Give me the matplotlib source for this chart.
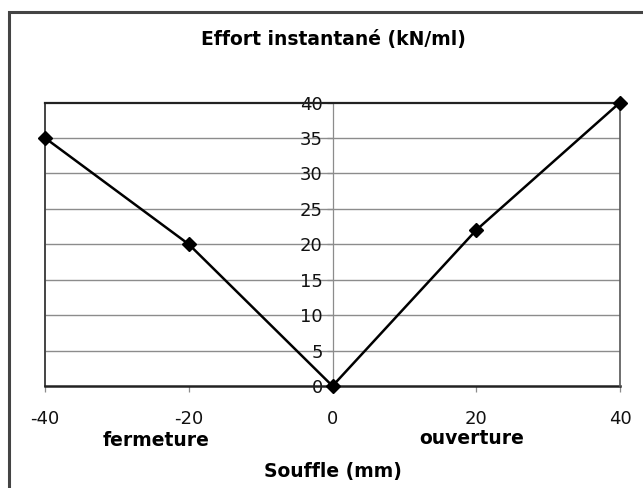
import matplotlib.pyplot as plt
from matplotlib.patches import Rectangle

# data
souffle = [-40, -20, 0, 20, 40]
effort = [35, 20, 0, 22, 40]
x_ticks = [-40, -20, 0, 20, 40]
y_ticks = [0, 5, 10, 15, 20, 25, 30, 35, 40]

plt.rcParams['font.family'] = ['DejaVu Sans']
plt.rcParams['axes.unicode_minus'] = False

W, H = 643, 488
fig = plt.figure(figsize=(W / 100, H / 100), dpi=100)
ax = fig.add_axes([45 / W, 1 - 386 / H, (620 - 45) / W, (386 - 102.5) / H])

# outer chart frame (cut off at right and bottom)
fig.patches.append(Rectangle((9 / W, -0.05), 1.1, 1 - 12 / H + 0.05, transform=fig.transFigure,
                             fill=False, edgecolor='#444444', linewidth=2.2, clip_on=False))

ax.set_xlim(-40, 40)
ax.set_ylim(0, 40)

for y in y_ticks[1:-1]:
    ax.axhline(y, color='#8c8c8c', linewidth=1.0, zorder=1)

ax.plot(souffle, effort, color='black', linewidth=1.8, marker='D', markersize=7,
        markerfacecolor='black', markeredgecolor='black', zorder=3, clip_on=False)

# y axis sits at x = 0
ax.spines['left'].set_position(('data', 0))
ax.spines['left'].set_color('#8c8c8c')
ax.spines['left'].set_linewidth(0.9)
ax.spines['left'].set_zorder(2)
ax.spines['top'].set_color('#222222')
ax.spines['top'].set_linewidth(1.6)
ax.spines['right'].set_color('#555555')
ax.spines['right'].set_linewidth(1.2)
ax.spines['bottom'].set_color('#222222')
ax.spines['bottom'].set_linewidth(1.8)
ax.spines['bottom'].set_zorder(2)
# plot-area left border
ax.axvline(-40, color='#444444', linewidth=1.4, clip_on=False, zorder=2)

ax.set_xticks(x_ticks)
ax.set_yticks(y_ticks)
ax.tick_params(axis='y', direction='out', length=4, width=0.9, color='#8c8c8c', pad=3,
               labelsize=13, labelcolor='#111111')
ax.tick_params(axis='x', direction='out', length=4, width=0.9, color='#8c8c8c', pad=13,
               labelsize=13, labelcolor='#111111')

fig.text(333 / W, 1 - 40 / H, 'Effort instantané (kN/ml)', ha='center', va='center',
         fontsize=13.5, fontweight='bold')
fig.text(156 / W, 1 - 440 / H, 'fermeture', ha='center', va='center', fontsize=13.5, fontweight='bold')
fig.text(472 / W, 1 - 439 / H, 'ouverture', ha='center', va='center', fontsize=13.5, fontweight='bold')
fig.text(333 / W, 1 - 472 / H, 'Souffle (mm)', ha='center', va='center', fontsize=13.5, fontweight='bold')

fig.savefig('out.png', dpi=100)
